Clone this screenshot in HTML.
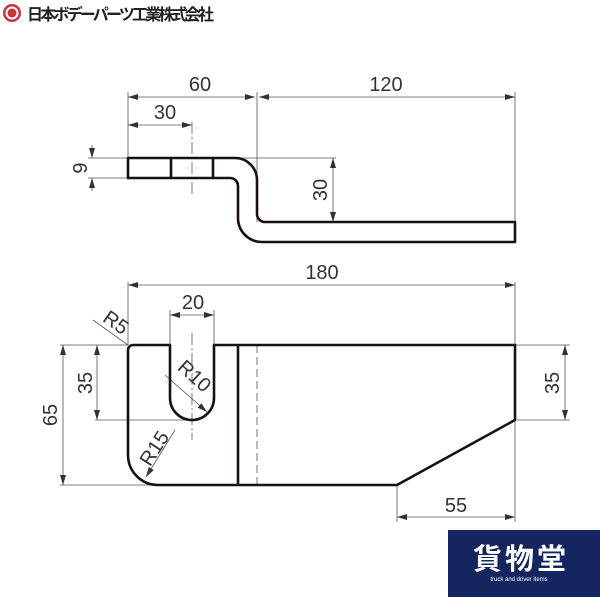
<!DOCTYPE html>
<html><head><meta charset="utf-8"><style>
html,body{margin:0;padding:0;background:#fff;}
svg{display:block;}
text{font-family:"Liberation Sans",sans-serif;fill:#333;}
</style></head><body>
<svg width="600" height="597" viewBox="0 0 600 597" xmlns="http://www.w3.org/2000/svg">
<defs>
<marker id="a" viewBox="0 0 10 6" refX="10" refY="3" markerWidth="10" markerHeight="6" orient="auto-start-reverse" markerUnits="userSpaceOnUse"><path d="M0,0L10,3L0,6z" fill="#333"/></marker>
</defs>
<circle cx="12" cy="13" r="9" fill="#c8343c"/>
<circle cx="12" cy="13" r="6.5" fill="#fff"/>
<circle cx="12" cy="13" r="4.5" fill="#c8343c"/>
<text x="27" y="20" style="font-family:'Liberation Sans','Noto Sans CJK JP',sans-serif;font-weight:bold;font-size:16px;fill:#222" textLength="187">日本ボデーパーツ工業株式会社</text>

<g stroke="#555" stroke-width="0.8" fill="none">
<line x1="128" y1="92" x2="128" y2="158"/>
<line x1="257" y1="92" x2="257" y2="222"/>
<line x1="515" y1="92" x2="515" y2="222"/>
<line x1="128" y1="97" x2="255" y2="97" marker-start="url(#a)" marker-end="url(#a)"/>
<line x1="259" y1="97" x2="515" y2="97" marker-start="url(#a)" marker-end="url(#a)"/>
<line x1="128" y1="125" x2="192" y2="125" marker-start="url(#a)" marker-end="url(#a)"/>
<line x1="192" y1="122" x2="192" y2="196" stroke-dasharray="12,3,2,3"/>
<line x1="88" y1="158" x2="128" y2="158"/>
<line x1="88" y1="178" x2="128" y2="178"/>
<line x1="92" y1="145" x2="92" y2="158" marker-end="url(#a)"/>
<line x1="92" y1="191" x2="92" y2="178" marker-end="url(#a)"/>
<line x1="240" y1="158" x2="336" y2="158"/>
<line x1="333" y1="158" x2="333" y2="222" marker-start="url(#a)" marker-end="url(#a)"/>
<line x1="128" y1="282" x2="128" y2="345"/>
<line x1="515" y1="282" x2="515" y2="345"/>
<line x1="128" y1="285" x2="515" y2="285" marker-start="url(#a)" marker-end="url(#a)"/>
<line x1="170" y1="310" x2="170" y2="345"/>
<line x1="214" y1="310" x2="214" y2="345"/>
<line x1="170" y1="315" x2="214" y2="315" marker-start="url(#a)" marker-end="url(#a)"/>
<line x1="60" y1="345" x2="128" y2="345"/>
<line x1="95" y1="420" x2="192" y2="420"/>
<line x1="60" y1="485" x2="158" y2="485"/>
<line x1="97" y1="345" x2="97" y2="420" marker-start="url(#a)" marker-end="url(#a)"/>
<line x1="63" y1="345" x2="63" y2="485" marker-start="url(#a)" marker-end="url(#a)"/>
<line x1="192" y1="333" x2="192" y2="440" stroke-dasharray="12,3,2,3"/>
<line x1="93" y1="320" x2="128" y2="345"/>
<line x1="165" y1="375" x2="207" y2="412" marker-end="url(#a)"/>
<line x1="175" y1="430" x2="146" y2="477" marker-end="url(#a)"/>
<line x1="515" y1="345" x2="570" y2="345"/>
<line x1="515" y1="420" x2="570" y2="420"/>
<line x1="565" y1="345" x2="565" y2="420" marker-start="url(#a)" marker-end="url(#a)"/>
<line x1="397" y1="485" x2="397" y2="522"/>
<line x1="515" y1="420" x2="515" y2="522"/>
<line x1="397" y1="517" x2="515" y2="517" marker-start="url(#a)" marker-end="url(#a)"/>
<line x1="257" y1="345" x2="257" y2="485" stroke-dasharray="8,4" stroke="#777" stroke-width="1"/>
</g>

<g stroke="#1a1010" stroke-width="2.6" fill="none" stroke-linejoin="round">
<path d="M128,158 H235 A22,22 0 0 1 257,180 V214 A8,8 0 0 0 265,222 H515 V242 H262 A24,24 0 0 1 238,218 V186 A8,8 0 0 0 230,178 H128 Z"/>
<line x1="171" y1="158" x2="171" y2="178"/>
<line x1="213" y1="158" x2="213" y2="178"/>
<path d="M133,345 H170 V398 A22,22 0 0 0 214,398 V345 H515 V420 L397,485 H158 A30,30 0 0 1 128,455 V350 A5,5 0 0 1 133,345 Z"/>
<line x1="238" y1="345" x2="238" y2="485"/>
</g>

<g font-size="20">
<text x="200" y="91" text-anchor="middle">60</text>
<text x="165" y="119" text-anchor="middle">30</text>
<text x="386" y="91" text-anchor="middle">120</text>
<text x="322" y="279" text-anchor="middle">180</text>
<text x="193" y="309" text-anchor="middle">20</text>
<text x="456" y="512" text-anchor="middle">55</text>
<text transform="translate(87,168) rotate(-90)" text-anchor="middle">9</text>
<text transform="translate(327,190) rotate(-90)" text-anchor="middle">30</text>
<text transform="translate(92,383) rotate(-90)" text-anchor="middle">35</text>
<text transform="translate(57,415) rotate(-90)" text-anchor="middle">65</text>
<text transform="translate(559,383) rotate(-90)" text-anchor="middle">35</text>
<text transform="translate(112,328) rotate(35)" text-anchor="middle">R5</text>
<text transform="translate(190,381) rotate(42)" text-anchor="middle">R10</text>
<text transform="translate(160,452) rotate(-57)" text-anchor="middle">R15</text>
</g>

<rect x="448" y="530" width="152" height="67" fill="#15255f"/>
<text x="521" y="569" text-anchor="middle" style="font-family:'Liberation Sans','Noto Sans CJK JP',sans-serif;font-weight:bold;font-size:29px;fill:#fff;letter-spacing:3px">貨物堂</text>
<text x="519" y="581" text-anchor="middle" style="font-size:6px;fill:#fff">truck and driver items</text>
</svg>
</body></html>
